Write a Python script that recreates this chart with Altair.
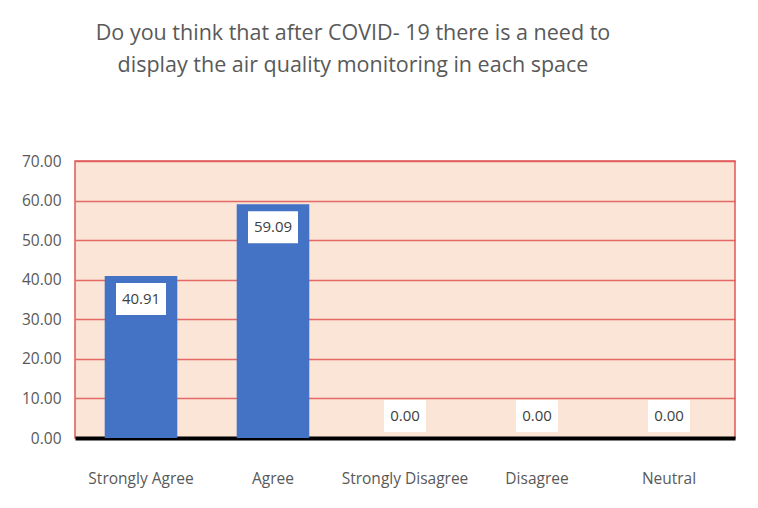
import altair as alt
import pandas as pd

categories = ["Strongly Agree", "Agree", "Strongly Disagree", "Disagree", "Neutral"]
values = [40.91, 59.09, 0.00, 0.00, 0.00]
title_lines = ["Do you think that after COVID- 19 there is a need to",
               "display the air quality monitoring in each space"]

df = pd.DataFrame({"cat": categories, "value": values})
df["label"] = df["value"].map(lambda v: f"{v:.2f}")

FONT = "Open Sans"
x = alt.X("cat:N", sort=categories, title=None,
          scale=alt.Scale(paddingInner=0.45, paddingOuter=0.225),
          axis=alt.Axis(labelAngle=0, labelPadding=33, ticks=False,
                        domainColor="#000000", domainWidth=4,
                        labelFont=FONT, labelFontSize=15.5, labelColor="#595959"))
y = alt.Y("value:Q", title=None,
          scale=alt.Scale(domain=[0, 70], nice=False),
          axis=alt.Axis(values=[0, 10, 20, 30, 40, 50, 60, 70], format=".2f",
                        domain=False, ticks=False, labelPadding=14,
                        gridColor="#E05A5A", gridWidth=1.6, gridOpacity=0.9,
                        labelFont=FONT, labelFontSize=15.5, labelColor="#595959"))

base = alt.Chart(df)
bars = base.mark_bar(color="#4472C4").encode(x=x, y=y)

box_big = "M-1,-0.64L1,-0.64L1,0.64L-1,0.64Z"
box_small = "M-1,-0.76L1,-0.76L1,0.76L-1,0.76Z"

nz = base.transform_filter("datum.value > 0")
z = base.transform_filter("datum.value <= 0")

nz_box = nz.mark_point(shape=box_big, filled=True, color="white", opacity=1, size=2500).encode(
    x=x, y=y, yOffset=alt.value(23))
nz_txt = nz.mark_text(font=FONT, fontSize=15, color="#404040", baseline="middle").encode(
    x=x, y=y, yOffset=alt.value(23), text="label:N")
z_box = z.mark_point(shape=box_small, filled=True, color="white", opacity=1, size=1764).encode(
    x=x, y=y, yOffset=alt.value(-22))
z_txt = z.mark_text(font=FONT, fontSize=15, color="#404040", baseline="middle").encode(
    x=x, y=y, yOffset=alt.value(-22), text="label:N")

chart = alt.layer(bars, nz_box, nz_txt, z_box, z_txt).properties(
    width=660, height=277,
    background="white",
    autosize=alt.AutoSizeParams(type="none"),
    padding={"left": 67, "top": 153, "right": 15, "bottom": 62},
    title=alt.TitleParams(text=title_lines, font=FONT, fontSize=21.5, fontWeight=500,
                          color="#595959", anchor="middle", offset=78, dx=-52,
                          lineHeight=32),
).configure_view(fill="#FBE5D6", stroke="#E05A5A", strokeWidth=1.5)

chart.save("out.html", embed_options={"renderer": "svg", "actions": False})
